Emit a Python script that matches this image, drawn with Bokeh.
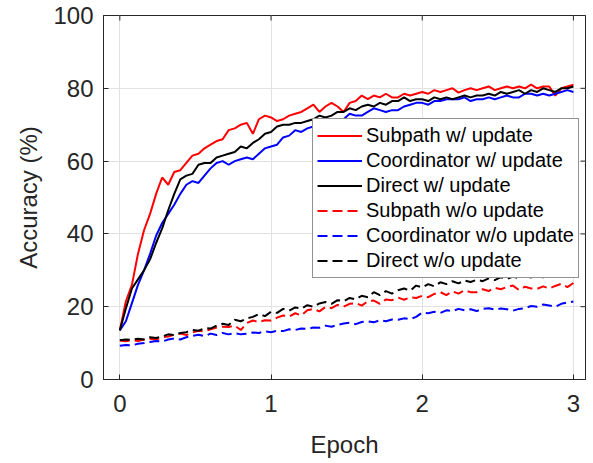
from bokeh.plotting import figure
from bokeh.models import FixedTicker, Range1d, Legend, LegendItem
from bokeh.embed import file_html
from bokeh.resources import INLINE
import numpy as np

FONT = "Liberation Sans"
INK = "#262626"

# training progress, sampled every 0.04 epoch
epoch = np.round(np.linspace(0.0, 3.0, 76), 2)

subpath_upd = [
    13.5, 21.5, 26.0, 34.5, 41.0, 45.5, 51.0, 55.5, 53.5, 57.0,
    57.5, 59.5, 61.5, 62.0, 63.5, 64.5, 65.5, 66.0, 68.5, 69.0,
    70.0, 70.5, 67.5, 71.5, 72.5, 72.0, 71.0, 71.5, 72.5, 73.0,
    73.5, 74.5, 75.5, 73.5, 75.0, 76.0, 75.0, 73.5, 76.0, 76.5,
    78.0, 77.0, 78.0, 77.5, 78.5, 77.5, 77.5, 78.5, 78.0, 78.5,
    79.0, 78.5, 79.5, 79.0, 79.5, 80.0, 78.8, 79.5, 80.0, 79.5,
    80.0, 80.5, 79.5, 80.0, 80.5, 80.0, 80.5, 80.0, 81.0, 80.0,
    80.5, 80.5, 78.0, 80.0, 80.5, 81.0,
]
coord_upd = [
    13.5, 16.0, 21.0, 26.0, 30.0, 34.5, 39.5, 43.0, 45.5, 48.0,
    51.0, 53.5, 54.5, 54.0, 56.0, 58.0, 59.5, 60.0, 59.0, 60.0,
    60.5, 61.0, 60.5, 62.0, 63.5, 64.0, 64.5, 66.5, 67.0, 68.5,
    68.0, 69.0, 69.5, 70.0, 70.5, 70.5, 71.0, 71.5, 73.0, 72.5,
    72.5, 73.5, 74.5, 74.0, 73.5, 74.0, 74.0, 75.0, 75.5, 76.0,
    76.0, 75.5, 76.5, 76.5, 77.0, 77.0, 77.0, 77.5, 76.5, 77.0,
    77.0, 77.5, 77.0, 77.5, 78.0, 77.5, 77.5, 78.5, 78.5, 78.0,
    78.5, 78.0, 78.5, 79.0, 79.5, 79.0,
]
direct_upd = [
    13.5, 19.5, 25.0, 27.5, 30.0, 33.0, 37.5, 41.5, 46.5, 51.0,
    55.0, 56.0, 56.5, 59.0, 59.5, 59.5, 61.0, 61.5, 62.0, 62.5,
    64.0, 63.5, 65.0, 66.0, 67.5, 68.0, 69.5, 70.0, 70.0, 70.5,
    70.5, 71.0, 71.5, 72.5, 72.0, 72.5, 73.5, 73.5, 74.5, 74.0,
    75.0, 75.5, 75.0, 76.0, 75.5, 76.5, 76.5, 77.5, 76.5, 77.0,
    77.0, 76.5, 77.5, 77.0, 77.5, 77.0, 77.5, 78.0, 77.5, 78.0,
    78.0, 78.5, 78.0, 79.0, 78.5, 79.0, 79.5, 78.5, 79.5, 79.0,
    80.0, 79.5, 79.0, 80.0, 80.0, 80.5,
]
subpath_noupd = [
    10.7, 10.5, 10.8, 10.6, 11.0, 11.2, 11.0, 11.6, 11.8, 12.3,
    12.6, 12.2, 12.9, 13.4, 13.2, 13.8, 14.3, 14.5, 14.4, 14.8,
    13.6, 15.5, 16.2, 15.8, 16.3, 16.2, 17.0, 17.6, 17.3, 18.2,
    17.6, 19.0, 19.4, 18.7, 19.9, 19.6, 20.5, 20.0, 20.8, 21.0,
    20.3, 21.5, 21.7, 20.8, 22.0, 21.8, 22.5, 21.9, 22.6, 22.4,
    23.0, 22.6, 23.5, 24.0, 23.2, 24.2, 23.6, 24.5, 24.0, 24.0,
    24.8, 24.3, 25.2, 24.8, 25.4, 25.8, 24.6, 25.5, 25.0, 24.9,
    25.6, 25.0, 25.7, 26.3, 25.4, 26.5,
]
coord_noupd = [
    9.3, 9.5, 9.4, 9.8, 10.0, 10.3, 10.6, 10.4, 11.0, 11.3,
    11.0, 11.6, 12.0, 12.3, 11.9, 12.6, 12.2, 12.8, 12.4, 12.7,
    12.4, 12.6, 12.9, 12.8, 13.2, 13.0, 13.4, 13.3, 13.8, 13.6,
    14.0, 13.9, 14.3, 14.2, 14.8, 14.5, 15.0, 15.4, 15.6, 15.2,
    15.8, 16.0, 15.7, 16.3, 16.0, 16.5, 16.4, 16.8, 16.6, 17.2,
    18.4, 18.2, 18.6, 18.3, 19.0, 18.8, 19.4, 19.0, 19.3, 18.8,
    19.4, 19.6, 19.2, 19.5, 19.3, 18.9, 19.4, 19.6, 20.2, 20.0,
    20.6, 20.3, 20.0, 20.8, 21.2, 21.4,
]
direct_noupd = [
    10.8, 11.0, 10.9, 11.2, 11.0, 11.6, 11.4, 11.8, 12.4, 12.2,
    12.8, 13.0, 13.6, 13.4, 14.1, 14.0, 14.8, 15.3, 15.0, 16.4,
    16.0, 16.8, 17.2, 18.0, 17.4, 18.6, 18.3, 19.4, 18.9, 19.8,
    19.5, 20.4, 20.0, 20.9, 21.3, 20.8, 21.8, 21.5, 22.4, 22.0,
    23.0, 22.6, 24.0, 23.2, 24.3, 23.6, 24.5, 25.0, 24.4, 25.8,
    25.3, 26.2, 25.6, 26.7, 26.2, 27.0, 26.4, 27.2, 26.8, 27.4,
    27.0, 27.8, 27.3, 28.1, 27.6, 28.3, 27.8, 28.5, 28.0, 28.4,
    28.1, 28.8, 28.3, 29.0, 28.6, 29.2,
]

series = [
    ("Subpath w/ update", subpath_upd, "#ff0000", "solid"),
    ("Coordinator w/ update", coord_upd, "#0000ff", "solid"),
    ("Direct w/ update", direct_upd, "#000000", "solid"),
    ("Subpath w/o update", subpath_noupd, "#ff0000", "10 5"),
    ("Coordinator w/o update", coord_noupd, "#0000ff", "10 5"),
    ("Direct w/o update", direct_noupd, "#000000", "10 5"),
]

x_ticks = [0, 1, 2, 3]
y_ticks = [0, 20, 40, 60, 80, 100]
x_lo, x_hi = -0.108, 3.08
y_lo, y_hi = 0, 100

p = figure(
    width=593, height=463,
    x_range=Range1d(x_lo, x_hi), y_range=Range1d(y_lo, y_hi),
    output_backend="svg", toolbar_location=None,
    min_border_left=103, min_border_right=8,
    min_border_top=15, min_border_bottom=84,
    background_fill_color="white", border_fill_color="white",
)
p.outline_line_color = INK
p.outline_line_width = 1

for ax, ticks in ((p.xaxis[0], x_ticks), (p.yaxis[0], y_ticks)):
    ax.ticker = FixedTicker(ticks=ticks)
    ax.axis_line_color = INK
    ax.major_tick_line_color = INK
    ax.major_tick_in = 5
    ax.major_tick_out = 0
    ax.minor_tick_line_color = None
    ax.major_label_text_font = FONT
    ax.major_label_text_font_size = "24px"
    ax.major_label_text_color = INK
    ax.axis_label_text_font = FONT
    ax.axis_label_text_font_size = "24px"
    ax.axis_label_text_font_style = "normal"
    ax.axis_label_text_color = INK

p.xaxis.axis_label = "Epoch"
p.yaxis.axis_label = "Accuracy (%)"
p.xaxis.major_label_standoff = 15
p.xaxis.axis_label_standoff = 16
p.yaxis.major_label_standoff = 10
p.yaxis.axis_label_standoff = 8

p.xgrid.ticker = FixedTicker(ticks=x_ticks)
p.ygrid.ticker = FixedTicker(ticks=y_ticks)
p.grid.grid_line_color = "#e2e2e2"
p.grid.grid_line_width = 1

# mirrored inward ticks along the top and right edges of the box
# (markers centred on the edge; the half outside the frame is clipped)
p.scatter(x_ticks, [y_hi] * len(x_ticks), marker="dash", size=10,
          angle=np.pi / 2, line_color=INK, line_width=1)
p.scatter([x_hi] * len(y_ticks), y_ticks, marker="dash", size=10,
          line_color=INK, line_width=1)

items = []
for label, vals, color, dash in series:
    r = p.line(epoch, vals, line_color=color, line_width=2, line_dash=dash)
    items.append(LegendItem(label=label, renderers=[r]))

legend = Legend(
    items=items, location=(209, 101),
    label_text_font=FONT, label_text_font_size="20px", label_text_color="#000000",
    glyph_width=45, glyph_height=25, label_height=25, label_standoff=4,
    padding=4, spacing=0, margin=0,
    border_line_color=INK, border_line_width=1,
    background_fill_color="white", background_fill_alpha=1.0,
)
p.add_layout(legend, "center")

open("out.html", "w").write(file_html(p, INLINE))
